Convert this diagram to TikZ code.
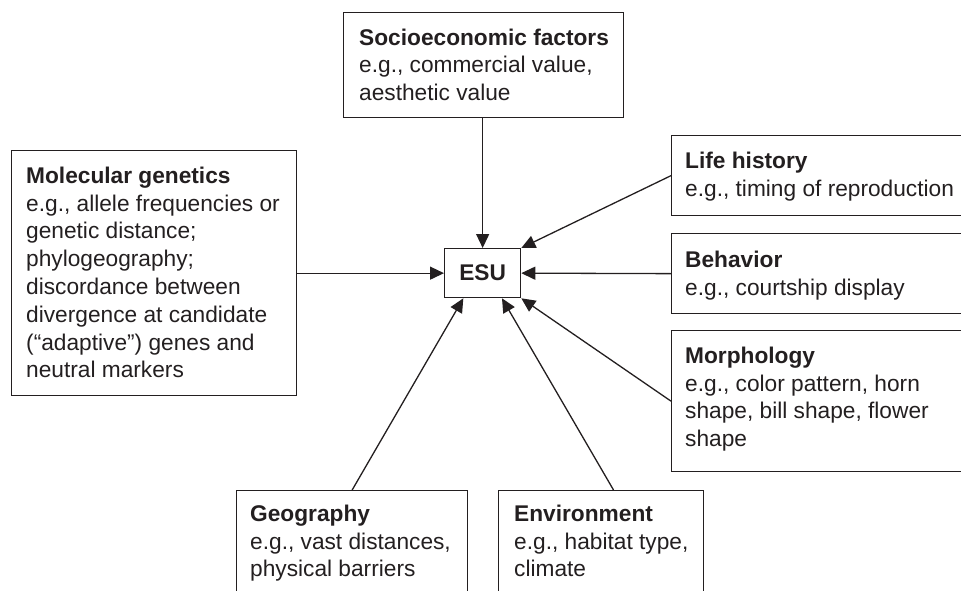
\documentclass[tikz,border=0pt]{standalone}
\usepackage{fontspec}
\setmainfont{Liberation Sans}
\usetikzlibrary{arrows.meta,calc}
\definecolor{ink}{HTML}{231F20}
\begin{document}
\begin{tikzpicture}[x=1pt,y=-1pt,
  box/.style={draw=ink,line width=1.3pt,rectangle,inner sep=0pt,anchor=north west},
  txt/.style={text=ink,font=\fontsize{22.7}{27.8}\selectfont,align=left,anchor=north west,inner sep=0pt},
  link/.style={draw=ink,line width=1.3pt,-{Triangle[length=14pt,width=13pt]}}]
\useasboundingbox (0,0) rectangle (961,591);
\clip (0,0) rectangle (961,591);

% factor boxes
\node[box,minimum width=280pt,minimum height=105pt] (socio) at (343,12) {};
\node[box,minimum width=285pt,minimum height=245pt] (mol) at (11,150) {};
\node[box,minimum width=310pt,minimum height=80pt] (life) at (671,135) {};
\node[box,minimum width=310pt,minimum height=80pt] (beh) at (671,233) {};
\node[box,minimum width=310pt,minimum height=141pt] (morph) at (671,330) {};
\node[box,minimum width=231pt,minimum height=120pt] (geo) at (236,490) {};
\node[box,minimum width=205pt,minimum height=120pt] (env) at (498,490) {};

% central unit
\node[box,minimum width=76pt,minimum height=49pt] (esu) at (444,248) {};
\node[text=ink,font=\fontsize{22.7}{27}\selectfont\bfseries,inner sep=0pt] (esulabel) at (esu.center) {ESU};

% box texts
\node[txt] (sociot) at ([shift={(16,15)}]socio.north west)
  {\rule{0pt}{18pt}\textbf{Socioeconomic factors}\\e.g., commercial value,\\aesthetic value};
\node[txt] (molt) at ([shift={(15,15)}]mol.north west)
  {\rule{0pt}{18pt}\textbf{Molecular genetics}\\e.g., allele frequencies or\\genetic distance;\\phylogeography;\\discordance between\\divergence at candidate\\(“adaptive”) genes and\\neutral markers};
\node[txt] (lifet) at ([shift={(14,15)}]life.north west)
  {\rule{0pt}{18pt}\textbf{Life history}\\e.g., timing of reproduction};
\node[txt] (beht) at ([shift={(14,16)}]beh.north west)
  {\rule{0pt}{18pt}\textbf{Behavior}\\e.g., courtship display};
\node[txt] (morpht) at ([shift={(14,15)}]morph.north west)
  {\rule{0pt}{18pt}\textbf{Morphology}\\e.g., color pattern, horn\\shape, bill shape, flower\\shape};
\node[txt] (geot) at ([shift={(14,13)}]geo.north west)
  {\rule{0pt}{18pt}\textbf{Geography}\\e.g., vast distances,\\physical barriers};
\node[txt] (envt) at ([shift={(16,13)}]env.north west)
  {\rule{0pt}{18pt}\textbf{Environment}\\e.g., habitat type,\\climate};

% connectors into the central unit
\coordinate (envtop) at ($(env.north west)!0.56!(env.north east)$);
\draw[link] (esu.north |- socio.south) -- (esu.north);
\draw[link] (mol.east) -- (esu.west);
\draw[link] (beh.west) -- (esu.east);
\draw[link] (life.west) -- (esu.north east);
\draw[link] (morph.west) -- (esu.south east);
\draw[link] (geo.north) -- ($(esu.south)!0.5!(esu.south west)$);
\draw[link] (envtop) -- ($(esu.south)!0.5!(esu.south east)$);
\end{tikzpicture}
\end{document}
